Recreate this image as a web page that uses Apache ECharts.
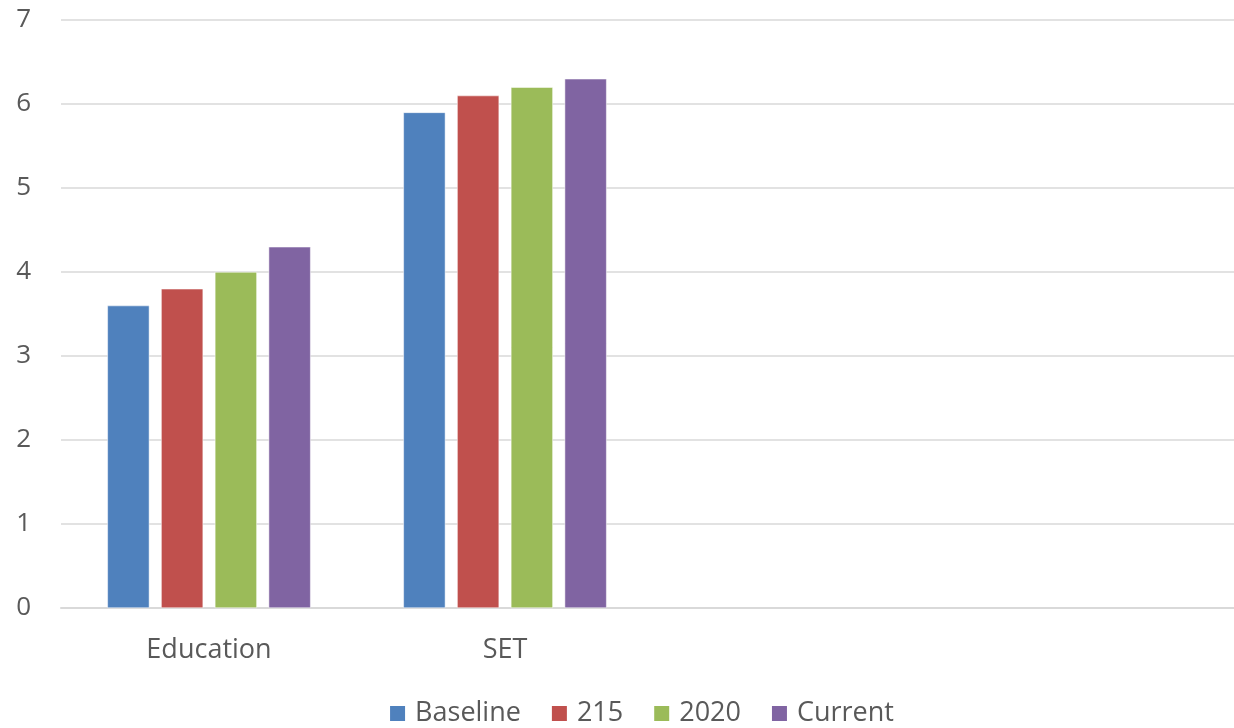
<!DOCTYPE html>
<html>
<head>
<meta charset="utf-8">
<script src="https://cdn.jsdelivr.net/npm/echarts@6/dist/echarts.min.js"></script>
<style>html,body{margin:0;padding:0;background:#fff;overflow:hidden;width:1234px;height:728px;}#c{width:1282px;height:728px;}</style>
</head>
<body>
<div id="c"></div>
<script>
const categories = ['Education', 'SET', '', ''];
const seriesNames = ['Baseline', '215', '2020', 'Current'];
const baseline = [3.6, 5.9, null, null];
const s215 = [3.8, 6.1, null, null];
const s2020 = [4.0, 6.2, null, null];
const current = [4.3, 6.3, null, null];
const colors = ['#4f81bd', '#c0504d', '#9bbb59', '#8064a2'];
const values = [baseline, s215, s2020, current];

const chart = echarts.init(document.getElementById('c'));
const font = '"Open Sans", "Noto Sans", sans-serif';
chart.setOption({
  animation: false,
  textStyle: { fontFamily: font },
  grid: { left: 61, right: 37, top: 20, bottom: 120, containLabel: false },
  legend: {
    bottom: -4,
    left: 'center',
    itemWidth: 17, itemHeight: 17, itemGap: 29,
    icon: 'rect',
    textStyle: { fontSize: 27, color: '#595959', fontFamily: font, padding: [0, 0, 0, 4] },
    data: seriesNames
  },
  xAxis: {
    type: 'category',
    data: categories,
    axisLine: { lineStyle: { color: '#d9d9d9', width: 2 } },
    axisTick: { show: false },
    axisLabel: { fontSize: 27, color: '#595959', margin: 29, fontFamily: font }
  },
  yAxis: {
    type: 'value',
    min: 0, max: 7, interval: 1,
    axisLine: { show: false },
    axisTick: { show: false },
    splitLine: { lineStyle: { color: '#d9d9d9', width: 1.5 } },
    axisLabel: { fontSize: 26, color: '#595959', margin: 30, fontFamily: font }
  },
  series: seriesNames.map((n, i) => ({
    name: n,
    type: 'bar',
    data: values[i],
    barWidth: 42,
    barGap: '28%',
    itemStyle: { color: colors[i], borderColor: '#ffffff', borderWidth: 0.5 }
  }))
});
</script>
</body>
</html>
